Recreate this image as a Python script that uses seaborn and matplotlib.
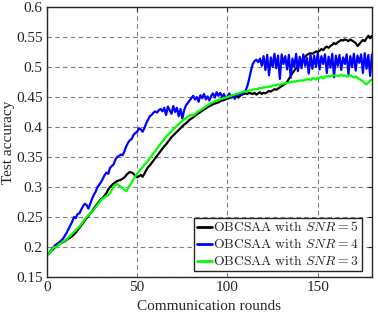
#!/usr/bin/env python3
"""
Test accuracy vs communication rounds for OBCSAA at different SNR values
"""

import numpy as np
import pandas as pd
import matplotlib
matplotlib.use('Agg')
import matplotlib.pyplot as plt
import seaborn as sns

# Test accuracy per communication round (rounds 1..180)
acc_snr5 = [
    0.188, 0.192, 0.195, 0.198, 0.200, 0.203, 0.205, 0.207, 0.208, 0.210,
    0.212, 0.214, 0.216, 0.218, 0.221, 0.224, 0.228, 0.232, 0.236, 0.240,
    0.244, 0.248, 0.252, 0.256, 0.259, 0.264, 0.268, 0.272, 0.276, 0.280,
    0.282, 0.286, 0.290, 0.296, 0.300, 0.303, 0.306, 0.308, 0.310, 0.311,
    0.312, 0.314, 0.316, 0.320, 0.323, 0.325, 0.324, 0.322, 0.318, 0.316,
    0.318, 0.320, 0.317, 0.322, 0.328, 0.333, 0.336, 0.340, 0.344, 0.348,
    0.352, 0.356, 0.360, 0.364, 0.368, 0.371, 0.375, 0.379, 0.383, 0.386,
    0.389, 0.392, 0.395, 0.398, 0.401, 0.404, 0.406, 0.409, 0.412, 0.414,
    0.416, 0.419, 0.421, 0.423, 0.425, 0.427, 0.429, 0.431, 0.433, 0.435,
    0.436, 0.438, 0.439, 0.440, 0.441, 0.443, 0.444, 0.445, 0.446, 0.447,
    0.448, 0.449, 0.450, 0.451, 0.452, 0.449, 0.452, 0.454, 0.455, 0.456,
    0.455, 0.457, 0.456, 0.455, 0.457, 0.454, 0.456, 0.458, 0.455, 0.457,
    0.456, 0.458, 0.460, 0.459, 0.461, 0.463, 0.462, 0.464, 0.466, 0.468,
    0.470, 0.472, 0.475, 0.480, 0.485, 0.490, 0.494, 0.498, 0.502, 0.506,
    0.510, 0.514, 0.517, 0.520, 0.522, 0.523, 0.522, 0.524, 0.526, 0.525,
    0.527, 0.530, 0.528, 0.532, 0.534, 0.532, 0.535, 0.537, 0.540, 0.538,
    0.541, 0.543, 0.545, 0.544, 0.546, 0.545, 0.543, 0.546, 0.544, 0.542,
    0.540, 0.535, 0.538, 0.542, 0.545, 0.543, 0.548, 0.552, 0.548, 0.552,
]

acc_snr4 = [
    0.188, 0.193, 0.198, 0.201, 0.204, 0.206, 0.208, 0.211, 0.214, 0.219,
    0.224, 0.230, 0.236, 0.242, 0.250, 0.248, 0.255, 0.256, 0.262, 0.268,
    0.272, 0.270, 0.264, 0.272, 0.280, 0.287, 0.292, 0.300, 0.304, 0.308,
    0.314, 0.320, 0.324, 0.322, 0.332, 0.335, 0.338, 0.346, 0.350, 0.352,
    0.354, 0.353, 0.360, 0.368, 0.374, 0.378, 0.380, 0.387, 0.390, 0.392,
    0.398, 0.396, 0.392, 0.398, 0.406, 0.412, 0.418, 0.420, 0.424, 0.426,
    0.424, 0.428, 0.430, 0.426, 0.432, 0.420, 0.434, 0.428, 0.422, 0.435,
    0.425, 0.432, 0.418, 0.430, 0.414, 0.428, 0.436, 0.440, 0.444, 0.448,
    0.452, 0.446, 0.450, 0.442, 0.453, 0.448, 0.455, 0.446, 0.451, 0.444,
    0.452, 0.456, 0.449, 0.458, 0.452, 0.457, 0.450, 0.455, 0.448, 0.451,
    0.456, 0.450, 0.453, 0.447, 0.452, 0.454, 0.456, 0.454, 0.457, 0.460,
    0.468, 0.480, 0.494, 0.505, 0.510, 0.512, 0.508, 0.514, 0.502, 0.518,
    0.495, 0.520, 0.486, 0.516, 0.500, 0.522, 0.498, 0.519, 0.480, 0.521,
    0.505, 0.518, 0.496, 0.520, 0.482, 0.514, 0.500, 0.522, 0.493, 0.517,
    0.498, 0.521, 0.502, 0.515, 0.489, 0.520, 0.497, 0.519, 0.500, 0.523,
    0.496, 0.518, 0.505, 0.521, 0.490, 0.517, 0.499, 0.522, 0.483, 0.519,
    0.502, 0.520, 0.495, 0.516, 0.505, 0.521, 0.488, 0.518, 0.500, 0.522,
    0.494, 0.519, 0.507, 0.521, 0.490, 0.523, 0.497, 0.520, 0.485, 0.521,
]

acc_snr3 = [
    0.188, 0.192, 0.197, 0.200, 0.199, 0.202, 0.205, 0.207, 0.209, 0.211,
    0.213, 0.216, 0.219, 0.222, 0.225, 0.228, 0.231, 0.234, 0.238, 0.242,
    0.246, 0.250, 0.253, 0.256, 0.258, 0.262, 0.266, 0.270, 0.274, 0.278,
    0.281, 0.283, 0.285, 0.286, 0.290, 0.295, 0.300, 0.303, 0.305, 0.302,
    0.300, 0.298, 0.295, 0.293, 0.298, 0.303, 0.308, 0.313, 0.318, 0.322,
    0.326, 0.330, 0.333, 0.337, 0.340, 0.344, 0.348, 0.352, 0.356, 0.360,
    0.364, 0.368, 0.372, 0.376, 0.380, 0.384, 0.387, 0.390, 0.393, 0.396,
    0.399, 0.402, 0.405, 0.408, 0.410, 0.413, 0.415, 0.417, 0.419, 0.420,
    0.419, 0.421, 0.424, 0.426, 0.428, 0.430, 0.432, 0.434, 0.436, 0.438,
    0.440, 0.441, 0.443, 0.444, 0.445, 0.446, 0.447, 0.448, 0.449, 0.450,
    0.451, 0.452, 0.453, 0.454, 0.455, 0.456, 0.457, 0.458, 0.459, 0.459,
    0.460, 0.461, 0.461, 0.462, 0.463, 0.463, 0.464, 0.465, 0.465, 0.466,
    0.466, 0.467, 0.467, 0.468, 0.469, 0.469, 0.470, 0.471, 0.470, 0.472,
    0.472, 0.473, 0.473, 0.474, 0.475, 0.475, 0.476, 0.476, 0.477, 0.477,
    0.478, 0.477, 0.479, 0.479, 0.480, 0.478, 0.481, 0.481, 0.479, 0.482,
    0.482, 0.483, 0.481, 0.484, 0.484, 0.485, 0.484, 0.486, 0.486, 0.485,
    0.486, 0.485, 0.487, 0.485, 0.486, 0.484, 0.485, 0.486, 0.484, 0.483,
    0.484, 0.482, 0.480, 0.478, 0.476, 0.473, 0.471, 0.474, 0.477, 0.479,
]

rounds = list(range(1, len(acc_snr5) + 1))
labels = [r'$\mathrm{OBCSAA\ with}\ SNR=5$',
          r'$\mathrm{OBCSAA\ with}\ SNR=4$',
          r'$\mathrm{OBCSAA\ with}\ SNR=3$']
colors = ['#000000', '#0000ff', '#00ff00']
x_ticks = [0, 50, 100, 150]
y_ticks = [0.15, 0.2, 0.25, 0.3, 0.35, 0.4, 0.45, 0.5, 0.55, 0.6]


def main():
    sns.set_style('white')
    plt.rcParams['font.family'] = ['Liberation Serif', 'DejaVu Serif']
    plt.rcParams['mathtext.fontset'] = 'cm'

    frames = []
    for lab, acc in zip(labels, [acc_snr5, acc_snr4, acc_snr3]):
        frames.append(pd.DataFrame({'round': rounds, 'acc': acc, 'series': lab}))
    df = pd.concat(frames, ignore_index=True)

    fig = plt.figure(figsize=(3.78, 3.18), dpi=100)
    ax = fig.add_axes([0.124, 0.129, 0.860, 0.849])

    sns.lineplot(data=df, x='round', y='acc', hue='series', hue_order=labels,
                 palette=colors, linewidth=1.6, ax=ax)

    ax.set_xlim(0, 180)
    ax.set_ylim(0.15, 0.6)
    ax.set_xticks(x_ticks)
    ax.set_yticks(y_ticks)
    ax.set_yticklabels([f'{v:g}' for v in y_ticks])
    ax.grid(True, linestyle=(0, (4, 3)), color='#808080', linewidth=0.8)
    ax.tick_params(direction='in', top=True, right=True, length=3,
                   labelsize=11, colors='#262626', width=0.8, pad=3)
    for sp in ax.spines.values():
        sp.set_color('#262626')
        sp.set_linewidth(1.0)

    ax.set_xlabel('Communication rounds', fontsize=11, labelpad=4)
    ax.set_ylabel('Test accuracy', fontsize=11, labelpad=1)

    leg = ax.legend(loc='lower right', bbox_to_anchor=(0.969, 0.022),
                    fontsize=9.8, handlelength=1.1, handletextpad=0.1,
                    borderpad=0.2, labelspacing=0.22, fancybox=False,
                    framealpha=1, borderaxespad=0)
    leg.get_frame().set_edgecolor('#262626')
    leg.get_frame().set_linewidth(1.0)
    for line in leg.get_lines():
        line.set_linewidth(2.0)

    fig.savefig('out.png', dpi=100)
    plt.close(fig)


if __name__ == "__main__":
    main()
